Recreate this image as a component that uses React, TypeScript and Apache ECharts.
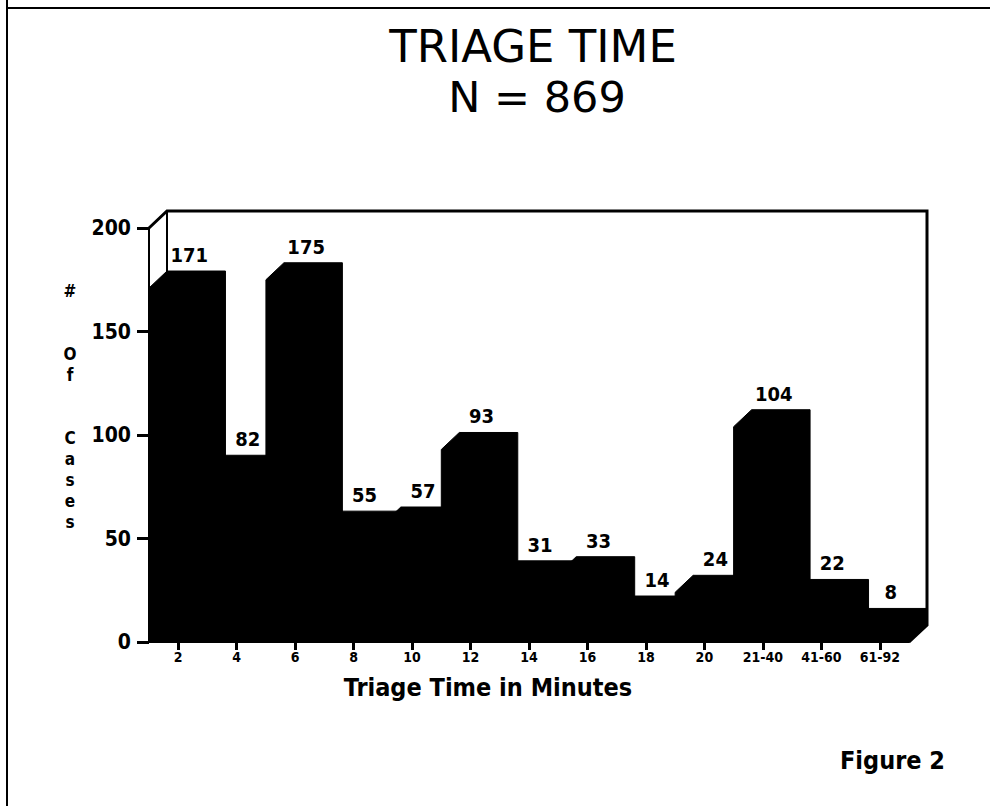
import React, { useEffect, useRef } from "react";
import * as echarts from "echarts";

const categories = ["2", "4", "6", "8", "10", "12", "14", "16", "18", "20", "21-40", "41-60", "61-92"];
const cases = [171, 82, 175, 55, 57, 93, 31, 33, 14, 24, 104, 22, 8];
const yMin = 0;
const yMax = 200;
const yInterval = 50;

const titleLines = ["TRIAGE TIME", "N = 869"];
const xName = "Triage Time in Minutes";
const yNameChars = "#\n\n\nO\nf\n\n\nC\na\ns\ne\ns";
const figureLabel = "Figure 2";

const DX = 18;
const DY = 17;
const COND = "'DejaVu Sans Condensed', 'DejaVu Sans', sans-serif";
const WIDE = "'DejaVu Sans', sans-serif";

export default function App() {
  const ref = useRef<HTMLDivElement>(null);
  useEffect(() => {
    document.body.style.margin = "0";
    const chart = echarts.init(ref.current!, null, { renderer: "svg" });
    chart.setOption({
      animation: false,
      backgroundColor: "#fff",
      grid: { left: 149, top: 228, width: 760, height: 414, containLabel: false },
      xAxis: {
        type: "category",
        data: categories,
        boundaryGap: true,
        axisLine: { show: true, lineStyle: { color: "#000", width: 2 } },
        axisTick: { show: true, alignWithLabel: true, length: 8, lineStyle: { color: "#000", width: 3 } },
        axisLabel: { color: "#000", fontFamily: COND, fontWeight: "bold", fontSize: 14, margin: 8, interval: 0 },
        splitLine: { show: false },
      },
      yAxis: {
        type: "value",
        min: yMin,
        max: yMax,
        interval: yInterval,
        axisLine: { show: true, lineStyle: { color: "#000", width: 2 } },
        axisTick: { show: true, length: 12, lineStyle: { color: "#000", width: 3 } },
        axisLabel: { color: "#000", fontFamily: COND, fontWeight: "bold", fontSize: 21, margin: 18 },
        splitLine: { show: false },
      },
      graphic: [
        { type: "line", shape: { x1: 7, y1: 0, x2: 7, y2: 806 }, style: { stroke: "#000", lineWidth: 2 } },
        { type: "line", shape: { x1: 7, y1: 8, x2: 990, y2: 8 }, style: { stroke: "#000", lineWidth: 2 } },
        {
          type: "text", x: 533, y: 46,
          style: { text: titleLines[0], fill: "#000", font: `45px ${WIDE}`, align: "center", verticalAlign: "middle" },
        },
        {
          type: "text", x: 537, y: 97,
          style: { text: titleLines[1], fill: "#000", font: `43px ${WIDE}`, align: "center", verticalAlign: "middle" },
        },
        {
          type: "text", x: 70, y: 280,
          style: { text: yNameChars, fill: "#000", font: `bold 17px ${COND}`, align: "center", verticalAlign: "top", lineHeight: 21 },
        },
        {
          type: "text", x: 488, y: 687,
          style: { text: xName, fill: "#000", font: `bold 25px ${COND}`, align: "center", verticalAlign: "middle" },
        },
        {
          type: "text", x: 945, y: 760,
          style: { text: figureLabel, fill: "#000", font: `bold 25px ${COND}`, align: "right", verticalAlign: "middle" },
        },
      ],
      series: [
        {
          type: "custom",
          coordinateSystem: "cartesian2d",
          data: [[0, yMax]],
          z: 1,
          silent: true,
          renderItem: (params: any, api: any) => {
            const w = api.size([1, 0])[0];
            const tl = api.coord([0, yMax]);
            const tr = api.coord([categories.length - 1, yMax]);
            const bl = api.coord([0, yMin]);
            const left = tl[0] - w / 2;
            const right = tr[0] + w / 2;
            const yt = tl[1];
            const yb = bl[1];
            return {
              type: "group",
              children: [
                {
                  type: "polyline",
                  shape: { points: [[left, yt], [left + DX, yt - DY], [right + DX, yt - DY], [right + DX, yb - DY], [right, yb]] },
                  style: { stroke: "#000", lineWidth: 3, fill: null },
                },
                {
                  type: "line",
                  shape: { x1: left + DX, y1: yt - DY, x2: left + DX, y2: yb - DY },
                  style: { stroke: "#000", lineWidth: 2 },
                },
              ],
            };
          },
        },
        {
          type: "custom",
          coordinateSystem: "cartesian2d",
          data: cases.map((v, i) => [i, v]),
          encode: { x: 0, y: 1 },
          z: 2,
          renderItem: (params: any, api: any) => {
            const i = api.value(0);
            const v = api.value(1);
            const b = api.coord([i, 0]);
            const t = api.coord([i, v]);
            const w = api.size([1, 0])[0];
            const x0 = b[0] - w / 2;
            const x1 = b[0] + w / 2;
            const yb = b[1];
            const yt = t[1];
            return {
              type: "group",
              children: [
                {
                  type: "polygon",
                  shape: {
                    points: [[x0, yb], [x0, yt], [x0 + DX, yt - DY], [x1 + DX, yt - DY], [x1 + DX, yb - DY], [x1, yb]],
                  },
                  style: { fill: "#000", stroke: "#000", lineWidth: 1 },
                },
                {
                  type: "text",
                  x: b[0] + DX / 2 + 2,
                  y: yt - DY - 6,
                  style: {
                    text: String(v), fill: "#000", font: `bold 20px ${COND}`,
                    align: "center", verticalAlign: "bottom",
                  },
                },
              ],
            };
          },
        },
      ],
    });
    return () => chart.dispose();
  }, []);
  return <div ref={ref} style={{ width: 990, height: 806 }} />;
}
